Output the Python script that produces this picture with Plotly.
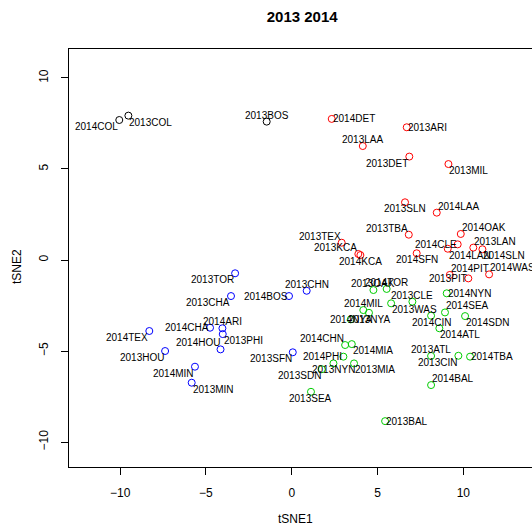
import plotly.graph_objects as go

# ---- data ----
black_labels = ["2014COL", "2013COL", "2013BOS"]
black_x = [-10.05, -9.52, -1.46]
black_y = [7.69, 7.93, 7.60]
black_pos = ["bl", "br", "tc"]

red_labels = ["2014DET", "2013ARI", "2013LAA", "2013DET", "2013MIL", "2013SLN", "2014LAA",
              "2013TEX", "2013KCA", "2014KCA", "2013TBA", "2014SFN", "2014CLE", "2014LAN",
              "2014OAK", "2013LAN", "2014SLN", "2014PIT", "2013PIT", "2014WAS"]
red_x = [2.33, 6.70, 4.14, 6.85, 9.13, 6.60, 8.45, 2.91, 3.88, 4.00, 6.82, 7.28, 9.67, 9.09,
         9.85, 10.58, 11.11, 9.21, 10.29, 11.50]
red_y = [7.75, 7.29, 6.26, 5.68, 5.27, 3.17, 2.60, 0.95, 0.33, 0.27, 1.39, 0.37, 0.86, 0.62,
         1.43, 0.68, 0.59, -0.82, -1.01, -0.79]
red_pos = ["mr", "mr", "tc", "bl", "br", "bc", "tr", "tl", "tl", "bc", "tl", "bc", "ml", "br",
           "tr", "tr", "br", "tr", "ml", "tr"]

blue_labels = ["2013TOR", "2013CHA", "2014BOS", "2013CHN", "2014CHA", "2014ARI", "2013PHI",
               "2014HOU", "2014TEX", "2013HOU", "2014MIN", "2013MIN", "2013SFN"]
blue_x = [-3.30, -3.54, -0.16, 0.87, -4.76, -4.04, -4.02, -4.15, -8.30, -7.38, -5.64, -5.83, 0.06]
blue_y = [-0.73, -1.98, -1.98, -1.69, -3.72, -3.75, -4.07, -4.91, -3.90, -5.00, -5.86, -6.74, -5.07]
blue_pos = ["bl", "bl", "ml", "tc", "ml", "tc", "br", "tl", "bl", "bl", "bl", "br", "bl"]

green_labels = ["2013OAK", "2014TOR", "2013CLE", "2014NYN", "2014MIL", "2013NYA", "2014NYA",
                "2013WAS", "2014SEA", "2014CIN", "2014SDN", "2014ATL", "2014CHN", "2014MIA",
                "2014PHI", "2013NYN", "2013MIA", "2013SDN", "2013SEA", "2013ATL", "2013CIN",
                "2014TBA", "2014BAL", "2013BAL"]
green_x = [4.76, 5.53, 7.03, 9.03, 4.17, 4.50, 3.44, 5.79, 8.93, 8.12, 10.10, 8.60, 3.11, 3.50,
           3.01, 2.43, 3.63, 1.75, 1.12, 8.12, 9.71, 10.39, 8.12, 5.44]
green_y = [-1.65, -1.59, -2.29, -1.83, -2.75, -2.90, -3.26, -2.38, -2.88, -3.06, -3.08, -3.75,
           -4.67, -4.62, -5.31, -5.68, -5.68, -6.00, -7.24, -5.27, -5.26, -5.31, -6.87, -8.85]
green_pos = ["tc", "tc", "tc", "mr", "tc", "bc", "mc", "br", "tr", "bc", "br", "br", "tl", "br",
             "ml", "bc", "br", "bl", "bc", "tc", "bl", "mr", "tr", "mr"]

x_ticks = [-10, -5, 0, 5, 10]
y_ticks = [-10, -5, 0, 5, 10]

# ---- style ----
FONT = "Liberation Sans, Arial, Helvetica, sans-serif"
groups = [
    (black_labels, black_x, black_y, black_pos, "#000000"),
    (red_labels, red_x, red_y, red_pos, "#FF0000"),
    (blue_labels, blue_x, blue_y, blue_pos, "#0000FF"),
    (green_labels, green_x, green_y, green_pos, "#00CD00"),
]
anchor = {
    "tl": ("right", "bottom"), "tc": ("center", "bottom"), "tr": ("left", "bottom"),
    "ml": ("right", "middle"), "mc": ("center", "middle"), "mr": ("left", "middle"),
    "bl": ("right", "top"), "bc": ("center", "top"), "br": ("left", "top"),
}

fig = go.Figure()
annotations = []
for labels, xs, ys, pos, col in groups:
    fig.add_trace(go.Scatter(
        x=xs, y=ys, mode="markers", text=labels, hoverinfo="text",
        marker=dict(symbol="circle-open", size=7, color=col, line=dict(width=1, color=col)),
        showlegend=False, cliponaxis=False,
    ))
    for lab, xv, yv, p in zip(labels, xs, ys, pos):
        xa, ya = anchor[p]
        annotations.append(dict(
            x=xv, y=yv, xref="x", yref="y", text=lab, showarrow=False,
            xanchor=xa, yanchor=ya, borderpad=0,
            font=dict(family=FONT, size=10, color="black"),
        ))

annotations.append(dict(x=0.49, y=-0.125, xref="paper", yref="paper", text="tSNE1",
                        showarrow=False, xanchor="center", yanchor="middle",
                        font=dict(family=FONT, size=12, color="black")))
annotations.append(dict(x=-0.111, y=0.48, xref="paper", yref="paper", text="tSNE2",
                        showarrow=False, xanchor="center", yanchor="middle", textangle=-90,
                        font=dict(family=FONT, size=12, color="black")))

fig.update_layout(
    width=532, height=530,
    margin=dict(l=69, r=0, t=49, b=63),
    paper_bgcolor="white", plot_bgcolor="white",
    font=dict(family=FONT, size=12, color="black"),
    title=dict(text="<b>2013 2014</b>", x=0.568, xanchor="center", y=1 - 17 / 530,
               yanchor="middle", yref="container", font=dict(family=FONT, size=15, color="black")),
    annotations=annotations,
)
fig.update_xaxes(
    range=[-12.98, 14.0], tickvals=x_ticks, ticks="outside", ticklen=7, tickcolor="black",
    showline=True, linecolor="black", linewidth=1, mirror=True, showgrid=False, zeroline=False,
    ticklabelstandoff=8, tickfont=dict(family=FONT, size=12, color="black"),
)
fig.update_yaxes(
    range=[-11.37, 11.59], tickvals=y_ticks, ticks="outside", ticklen=7, tickcolor="black",
    showline=True, linecolor="black", linewidth=1, mirror=False, showgrid=False, zeroline=False,
    tickangle=-90, ticklabelstandoff=8, tickfont=dict(family=FONT, size=12, color="black"),
)

fig.write_html(
    "out.html",
    config={"displayModeBar": False},
    post_script="document.body.style.margin='0';document.body.style.overflow='hidden';",
)
